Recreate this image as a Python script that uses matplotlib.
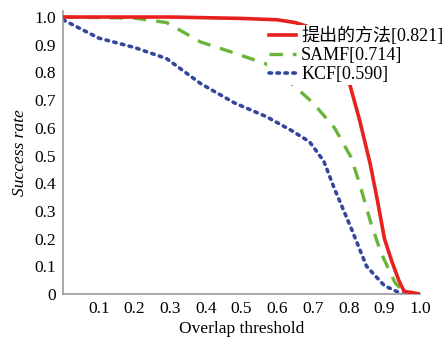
import matplotlib
matplotlib.use('Agg')
import matplotlib.pyplot as plt

plt.rcParams['font.family'] = ['Liberation Serif', 'Noto Sans CJK SC']

# Данные
x_red = [0.0, 0.3, 0.5, 0.6, 0.65, 0.7, 0.74, 0.77, 0.8, 0.83, 0.86, 0.88, 0.9, 0.92, 0.94, 0.955, 1.0]
y_red = [1.0, 1.0, 0.995, 0.99, 0.98, 0.96, 0.92, 0.86, 0.77, 0.63, 0.47, 0.34, 0.2, 0.12, 0.05, 0.01, 0.0]

x_green = [0.0, 0.2, 0.29, 0.385, 0.48, 0.57, 0.64, 0.7, 0.76, 0.806, 0.83, 0.862, 0.89, 0.93, 0.96, 1.0]
y_green = [1.0, 0.996, 0.98, 0.91, 0.87, 0.83, 0.76, 0.69, 0.6, 0.495, 0.4, 0.256, 0.15, 0.04, 0.0, 0.0]

x_blue = [0.0, 0.1, 0.2, 0.29, 0.385, 0.48, 0.57, 0.64, 0.69, 0.73, 0.76, 0.806, 0.85, 0.9, 0.95, 1.0]
y_blue = [0.99, 0.924, 0.89, 0.85, 0.76, 0.69, 0.64, 0.59, 0.55, 0.48, 0.38, 0.24, 0.10, 0.03, 0.0, 0.0]

labels = ['提出的方法[0.821]', 'SAMF[0.714]', 'KCF[0.590]']
xticks = [0.1, 0.2, 0.3, 0.4, 0.5, 0.6, 0.7, 0.8, 0.9, 1.0]
yticks = [0, 0.1, 0.2, 0.3, 0.4, 0.5, 0.6, 0.7, 0.8, 0.9, 1.0]

fig = plt.figure(figsize=(4.47, 3.38), dpi=100)
ax = fig.add_axes([0.141, 0.130, 0.799, 0.836])

ax.plot(x_red, y_red, color='#e8201e', lw=2.6, label=labels[0], zorder=3)
ax.plot(x_green, y_green, color='#6ab43a', lw=2.4, dashes=(4, 3), label=labels[1])
ax.plot(x_blue, y_blue, color='#34479c', lw=2.6, linestyle=(0, (0.7, 1.5)),
        dash_capstyle='round', label=labels[2])

ax.set_xlim(0, 1.0)
ax.set_ylim(0, 1.02)
ax.set_xticks(xticks)
ax.set_xticklabels(['%.1f' % v for v in xticks])
ax.set_yticks(yticks)
ax.set_yticklabels(['0'] + ['%.1f' % v for v in yticks[1:]])
ax.tick_params(length=0, labelsize=12.5, pad=5)

for s in ['top', 'right']:
    ax.spines[s].set_visible(False)
for s in ['left', 'bottom']:
    ax.spines[s].set_color('#9a9a9a')
    ax.spines[s].set_linewidth(1.2)

ax.set_xlabel('Overlap threshold', fontsize=12.5, labelpad=3)
ax.set_ylabel('Success rate', fontsize=12.5, style='italic', labelpad=5)

leg = ax.legend(loc='upper right', bbox_to_anchor=(1.07, 0.952), frameon=True,
                fontsize=13, handlelength=1.5, handletextpad=0.3, labelspacing=0.1,
                borderaxespad=0, borderpad=0.1)
leg.get_frame().set_edgecolor('none')
leg.get_frame().set_facecolor('white')
leg.get_frame().set_alpha(1)
leg.set_zorder(5)

fig.savefig('out.png', dpi=100)
